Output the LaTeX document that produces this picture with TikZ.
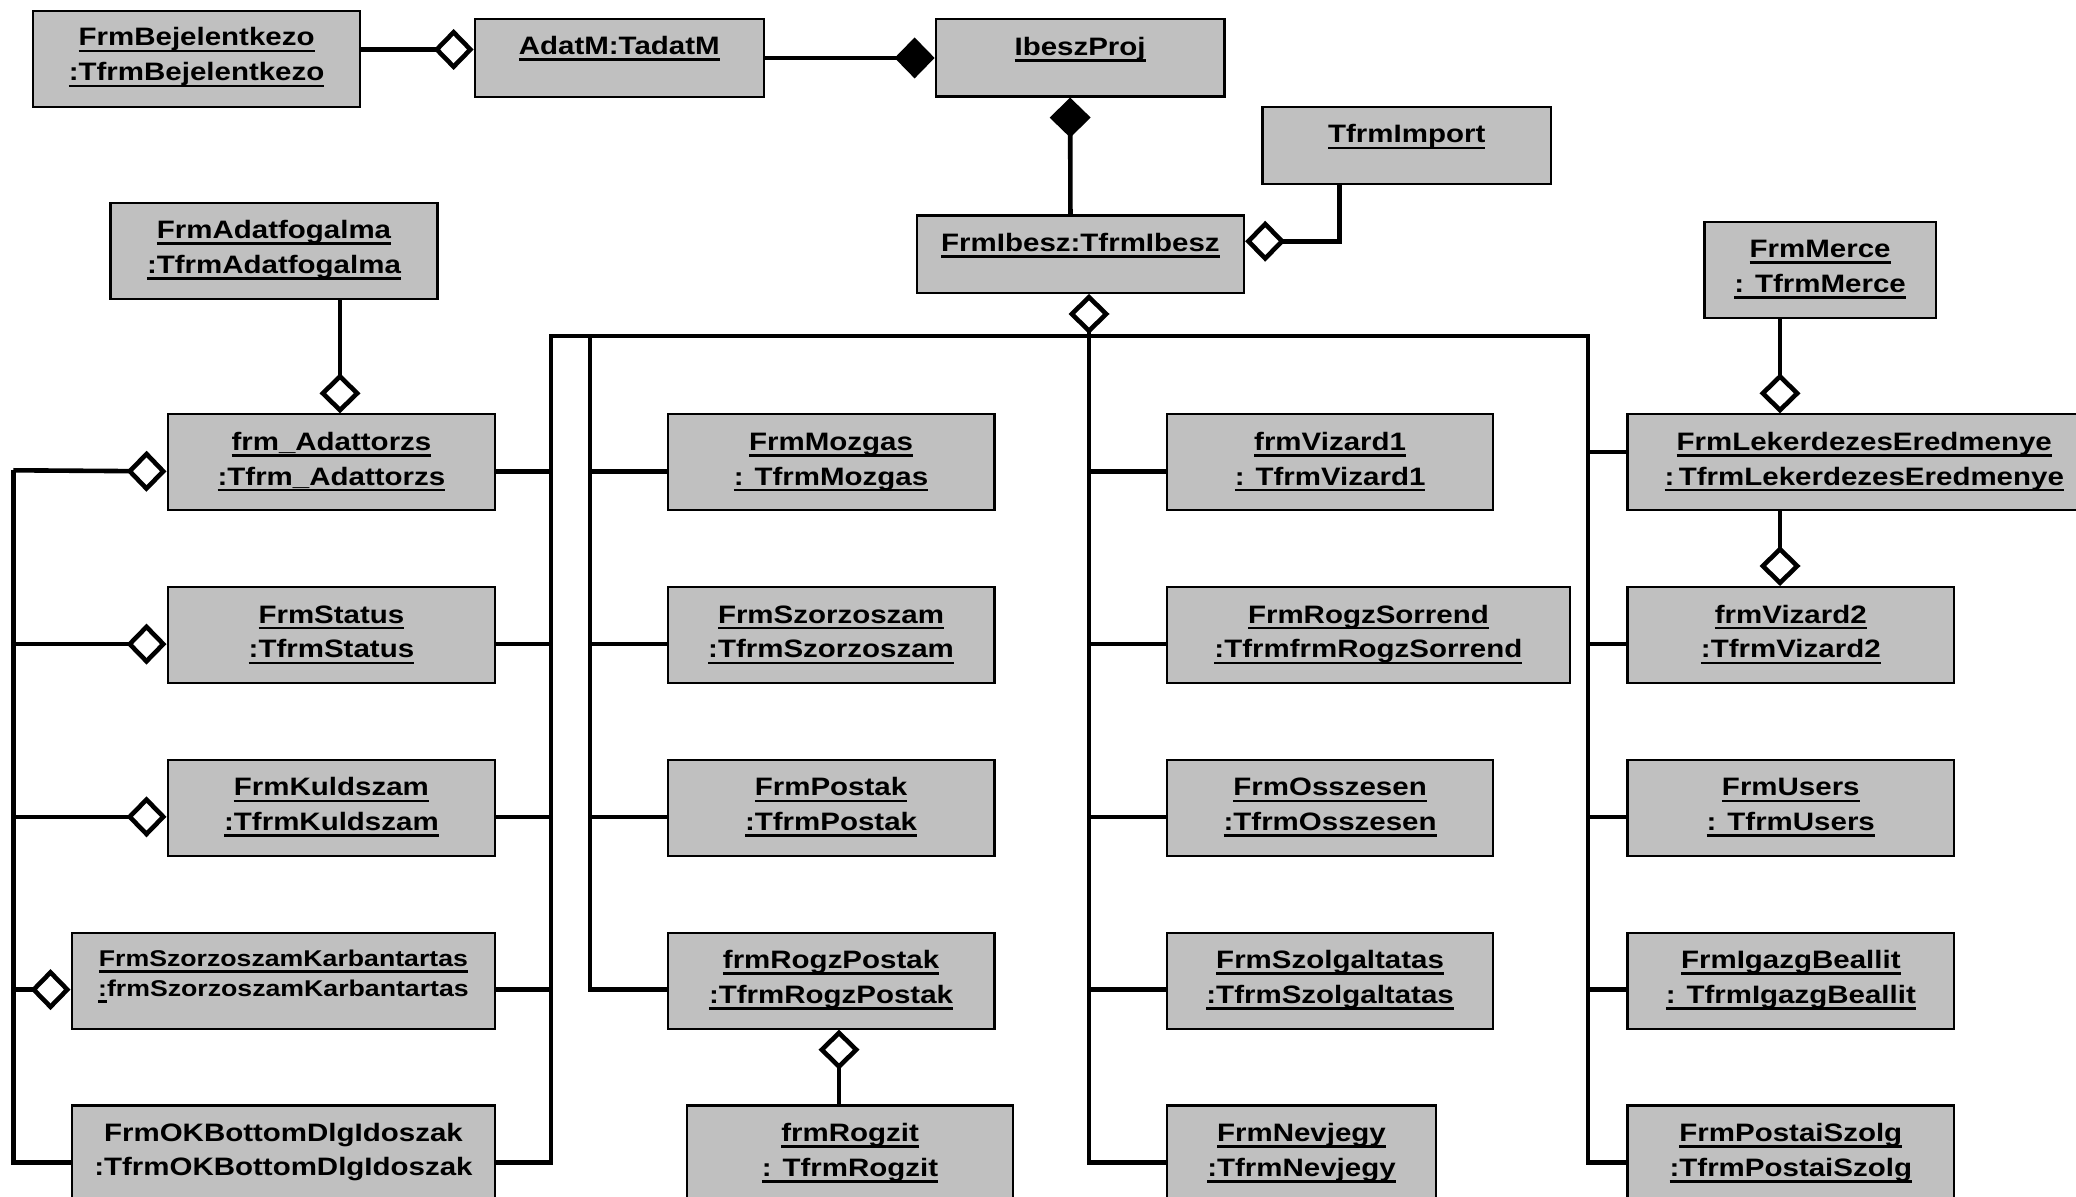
\documentclass[tikz,border=0pt]{standalone}
\usepackage{fontspec}
\setmainfont{Liberation Sans}[FakeStretch=1.17]
\usetikzlibrary{arrows.meta,calc}
\definecolor{boxgray}{HTML}{C0C0C0}
\newcommand\myul[1]{\sbox0{#1}\rlap{\rule[-3.2pt]{\wd0}{1.3pt}}\usebox0}
\newcommand\twoline[2]{\begin{tabular}[t]{@{}c@{}}#1\\#2\end{tabular}}
\newcommand\obox[5]{\node[box, minimum width={(#4-#2)*0.5pt}, minimum height={(#5-#3)*0.5pt}] (#1) at (#2,#3) {};}
\newcommand\otext[3]{\node[txt, anchor=base] (#1-t) at ([yshift=-#2]#1.north) {#3};}
\newcommand\rowpts[1]{\coordinate (#1-w) at ([yshift=-4.5pt]#1.west);\coordinate (#1-e) at ([yshift=-4.5pt]#1.east);}
\tikzset{
  box/.style={draw=black, line width=1.1pt, fill=boxgray, inner sep=0pt, anchor=north west},
  txt/.style={font=\fontsize{12.6}{17.4}\selectfont\bfseries, inner sep=0pt},
  smalltxt/.style={font=\fontsize{11.4}{15}\selectfont\bfseries, inner sep=0pt},
  okbtxt/.style={font=\fontsize{12.6}{16.7}\selectfont\bfseries, inner sep=0pt},
  conn/.style={line width=2.3pt, draw=black},
  hd/.style={-{Diamond[open,length=20pt,width=20.5pt]}},
  fd/.style={-{Diamond[length=20pt,width=20.5pt]}}
}
\begin{document}
\begin{tikzpicture}[x=0.5pt,y=-0.5pt]
\useasboundingbox (0,0) rectangle (2076,1197);
% top boxes
\obox{bej}{32}{10}{359}{106}
\obox{adatm}{473.6}{17.7}{762.7}{96}
\obox{ibproj}{934.6}{18.3}{1223.4}{95.4}
\obox{import}{1261.3}{106}{1550}{183}
\obox{frmib}{915.7}{214.5}{1243}{291.8}
\obox{adatfog}{109.4}{201.7}{436.4}{298}
\obox{merce}{1703.4}{220.7}{1934.6}{317.3}
% column 1
\obox{adattorzs}{166.5}{413.3}{494.2}{509.3}
\obox{status}{166.5}{586}{494.2}{682}
\obox{kuld}{166.5}{758.7}{494.2}{854.7}
\obox{karb}{70.5}{931.5}{494.2}{1027.5}
\obox{okb}{70.5}{1104.3}{494.2}{1200.3}
% column 2
\obox{mozgas}{666.5}{413.3}{993.4}{509.3}
\obox{szorz}{666.5}{586}{993.4}{682}
\obox{postak}{666.5}{758.7}{993.4}{854.7}
\obox{rogzpostak}{666.5}{931.5}{993.4}{1027.5}
\obox{rogzit}{685.7}{1104.3}{1012.2}{1200.3}
% column 3
\obox{vizard1}{1166}{413.3}{1492}{509.3}
\obox{sorrend}{1166}{586}{1568.6}{682}
\obox{osszesen}{1166}{758.7}{1492}{854.7}
\obox{szolg}{1166}{931.5}{1492}{1027.5}
\obox{nevjegy}{1166}{1104.3}{1434.7}{1200.3}
% column 4
\obox{lek}{1626.3}{413.3}{2100}{509.3}
\obox{vizard2}{1626.3}{586}{1953.1}{682}
\obox{users}{1626.3}{758.7}{1953.1}{854.7}
\obox{igazg}{1626.3}{931.5}{1953.1}{1027.5}
\obox{postai}{1626.3}{1104.3}{1953.1}{1200.3}
% texts
\otext{bej}{18pt}{\twoline{\myul{FrmBejelentkezo}}{\myul{:TfrmBejelentkezo}}}
\otext{adatm}{18.5pt}{\myul{AdatM:TadatM}}
\otext{ibproj}{18.5pt}{\myul{IbeszProj}}
\otext{import}{18.5pt}{\myul{TfrmImport}}
\otext{frmib}{18.5pt}{\myul{FrmIbesz:TfrmIbesz}}
\otext{adatfog}{18.5pt}{\twoline{\myul{FrmAdatfogalma}}{\myul{:TfrmAdatfogalma}}}
\otext{merce}{18.5pt}{\twoline{\myul{FrmMerce}}{\myul{: TfrmMerce}}}
\otext{adattorzs}{18.5pt}{\twoline{\myul{frm\_Adattorzs}}{\myul{:Tfrm\_Adattorzs}}}
\otext{status}{18.5pt}{\twoline{\myul{FrmStatus}}{\myul{:TfrmStatus}}}
\otext{kuld}{18.5pt}{\twoline{\myul{FrmKuldszam}}{\myul{:TfrmKuldszam}}}
\node[smalltxt, anchor=base] (karb-t) at ([yshift=-17.5pt]karb.north) {\twoline{\myul{FrmSzorzoszamKarbantartas}}{\myul{:}frmSzorzoszamKarbantartas}};
\node[okbtxt, anchor=base] (okb-t) at ([yshift=-18.7pt]okb.north) {\twoline{FrmOKBottomDlgIdoszak}{:TfrmOKBottomDlgIdoszak}};
\otext{mozgas}{18.5pt}{\twoline{\myul{FrmMozgas}}{\myul{: TfrmMozgas}}}
\otext{szorz}{18.5pt}{\twoline{\myul{FrmSzorzoszam}}{\myul{:TfrmSzorzoszam}}}
\otext{postak}{18.5pt}{\twoline{\myul{FrmPostak}}{\myul{:TfrmPostak}}}
\otext{rogzpostak}{18.5pt}{\twoline{\myul{frmRogzPostak}}{\myul{:TfrmRogzPostak}}}
\otext{rogzit}{18.5pt}{\twoline{\myul{frmRogzit}}{\myul{: TfrmRogzit}}}
\otext{vizard1}{18.5pt}{\twoline{\myul{frmVizard1}}{\myul{: TfrmVizard1}}}
\otext{sorrend}{18.5pt}{\twoline{\myul{FrmRogzSorrend}}{\myul{:TfrmfrmRogzSorrend}}}
\otext{osszesen}{18.5pt}{\twoline{\myul{FrmOsszesen}}{\myul{:TfrmOsszesen}}}
\otext{szolg}{18.5pt}{\twoline{\myul{FrmSzolgaltatas}}{\myul{:TfrmSzolgaltatas}}}
\otext{nevjegy}{18.5pt}{\twoline{\myul{FrmNevjegy}}{\myul{:TfrmNevjegy}}}
\otext{lek}{18.5pt}{\twoline{\myul{FrmLekerdezesEredmenye}}{\myul{:\hspace{0.18em}TfrmLekerdezesEredmenye}}}
\otext{vizard2}{18.5pt}{\twoline{\myul{frmVizard2}}{\myul{:TfrmVizard2}}}
\otext{users}{18.5pt}{\twoline{\myul{FrmUsers}}{\myul{: TfrmUsers}}}
\otext{igazg}{18.5pt}{\twoline{\myul{FrmIgazgBeallit}}{\myul{: TfrmIgazgBeallit}}}
\otext{postai}{18.5pt}{\twoline{\myul{FrmPostaiSzolg}}{\myul{:TfrmPostaiSzolg}}}
% row points
\rowpts{adattorzs}\rowpts{status}\rowpts{kuld}\rowpts{karb}\rowpts{okb}
\rowpts{mozgas}\rowpts{szorz}\rowpts{postak}\rowpts{rogzpostak}
\rowpts{vizard1}\rowpts{sorrend}\rowpts{osszesen}\rowpts{szolg}\rowpts{nevjegy}
\rowpts{vizard2}\rowpts{users}\rowpts{igazg}\rowpts{postai}
\coordinate (lek-w) at ([yshift=5.15pt]lek.west);
\coordinate (busA) at (551,336);
\coordinate (busB) at (590,336);
\coordinate (busC) at (1089,336);
\coordinate (busD) at (1588,336);
\coordinate (lft) at (13.4,470.3);
\coordinate (xT) at (340,0);
\coordinate (xM) at (1780,0);
\coordinate (xR) at (839,0);
\coordinate (bejR) at ([yshift=4.8pt]bej.east);
\coordinate (ibS) at ([xshift=-5pt]ibproj.south);
\coordinate (frmibN) at ([xshift=-5pt]frmib.north);
\coordinate (impS) at ([xshift=-33.7pt]import.south);
\coordinate (frmibE) at ([yshift=6.5pt]frmib.east);
% top connectors
\draw[conn,hd] (bejR) -- (bejR -| adatm.west);
\draw[conn,fd] (adatm.east) -- (ibproj.west);
\draw[conn,fd] (frmibN) -- (ibS);
\draw[conn,hd] (impS) |- (frmibE);
\draw[conn,hd] (busC) -- (busC |- frmib.south);
% trunk
\draw[conn] (okb-e) -| (busA) -- (busD) |- (postai-w);
\draw[conn] (rogzpostak-w) -| (busB);
\draw[conn] (nevjegy-w) -| (busC);
\foreach \n in {adattorzs,status,kuld,karb}{\draw[conn] (\n-e) -- (\n-e -| busA);}
\foreach \n in {mozgas,szorz,postak}{\draw[conn] (\n-w) -- (\n-w -| busB);}
\foreach \n in {vizard1,sorrend,osszesen,szolg}{\draw[conn] (\n-w) -- (\n-w -| busC);}
\foreach \n in {lek,vizard2,users,igazg}{\draw[conn] (\n-w) -- (\n-w -| busD);}
% left trunk
\draw[conn] (okb-w) -| (lft);
\draw[conn,hd] (lft) -- (adattorzs-w);
\foreach \n in {status,kuld,karb}{\draw[conn,hd] (lft |- \n-w) -- (\n-w);}
% vertical aggregations
\draw[conn,hd] (xT |- adatfog.south) -- (xT |- adattorzs.north);
\draw[conn,hd] (xM |- merce.south) -- (xM |- lek.north);
\draw[conn,hd] (xM |- lek.south) -- (xM |- vizard2.north);
\draw[conn,hd] (xR |- rogzit.north) -- (xR |- rogzpostak.south);
\end{tikzpicture}
\end{document}
